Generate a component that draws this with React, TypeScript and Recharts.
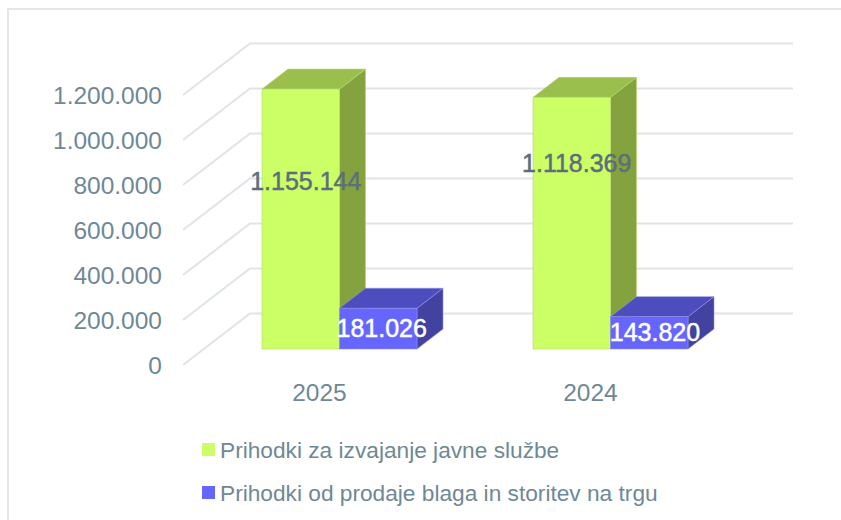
import { BarChart, Bar, XAxis, YAxis, CartesianGrid, Legend, LabelList } from 'recharts'

const years = ['2025', '2024']
const publicService = [1155144, 1118369]
const marketSales = [181026, 143820]
const yTicks = [0, 200000, 400000, 600000, 800000, 1000000, 1200000]
const seriesNames = ['Prihodki za izvajanje javne službe', 'Prihodki od prodaje blaga in storitev na trgu']

const rows = years.map((year, i) => ({
  year,
  publicService: publicService[i],
  marketSales: marketSales[i],
}))

const FONT = '"Liberation Sans", sans-serif'
const AXIS_TEXT = '#6f8896'
const GRID = '#dfe4e8'

// the fake 3D look: how far the side and top faces go back
const DEPTH_X = 26
const DEPTH_Y = 20
// where the wall and the floor edge sit relative to the bar baseline
const WALL_LEFT = 250
const WALL_RIGHT = 793
const WALL_DY = -35.5
const FRONT_LEFT = 183
const FRONT_DY = 16

// labels were dragged by hand in the original
const greenLabelDx = [5, 5]
const greenLabelDy = [-37, -59]
const blueLabelDx = [3.5, 5.7]
const blueLabelDy = [0, 0]

const fmt = (v: number) => v.toString().replace(/\B(?=(\d{3})+$)/g, '.')

function Box3D(props: any, top: string, side: string, edge: string) {
  const { x, y, width, height, fill } = props
  const r = x + width
  const b = y + height
  return (
    <g>
      <polygon points={`${r},${y} ${r + DEPTH_X},${y - DEPTH_Y} ${r + DEPTH_X},${b - DEPTH_Y} ${r},${b}`} fill={side} stroke={edge} strokeWidth={0.6} />
      <polygon points={`${x},${y} ${x + DEPTH_X},${y - DEPTH_Y} ${r + DEPTH_X},${y - DEPTH_Y} ${r},${y}`} fill={top} stroke={edge} strokeWidth={0.6} />
      <rect x={x} y={y} width={width} height={height} fill={fill} stroke={edge} strokeWidth={0.6} />
    </g>
  )
}

function GridLine(props: any) {
  const { y1 } = props
  return (
    <polyline
      key={`grid-${y1}`}
      points={`${FRONT_LEFT},${y1 + FRONT_DY} ${WALL_LEFT},${y1 + WALL_DY} ${WALL_RIGHT},${y1 + WALL_DY}`}
      fill="none"
      stroke={GRID}
      strokeWidth={2}
    />
  )
}

function YTick(props: any) {
  const { y, payload } = props
  return (
    <text x={162} y={y + FRONT_DY} dy={9} textAnchor="end" fontFamily={FONT} fontSize={24.5} fill={AXIS_TEXT}>
      {fmt(payload.value)}
    </text>
  )
}

function XTick(props: any) {
  const { x, payload } = props
  return (
    <text x={x - 20} y={401} textAnchor="middle" fontFamily={FONT} fontSize={24.5} fill={AXIS_TEXT}>
      {payload.value}
    </text>
  )
}

function BarLabel(props: any, color: string, dxList: number[], dyList: number[]) {
  const { x, y, width, height, value, index } = props
  return (
    <text
      x={x + width / 2 + dxList[index]}
      y={y + height / 2 + dyList[index] + 8}
      textAnchor="middle"
      fontFamily={FONT}
      fontSize={25}
      fill={color}
      stroke={color}
      strokeWidth={0.5}
    >
      {fmt(value)}
    </text>
  )
}

function LegendList({ payload }: any) {
  return (
    <div style={{ fontFamily: FONT, fontSize: 22.7, color: AXIS_TEXT }}>
      {(payload || []).map((item: any) => (
        <div key={item.value} style={{ position: 'relative', height: 43, whiteSpace: 'nowrap' }}>
          <span style={{ position: 'absolute', left: 0, top: 6, width: 13, height: 13, background: item.color }} />
          <span style={{ position: 'absolute', left: 18, top: 0, lineHeight: '26px' }}>{item.value}</span>
        </div>
      ))}
    </div>
  )
}

export default function App() {
  return (
    <div style={{ position: 'absolute', left: 0, top: 0, width: 841, height: 520, background: '#fff', overflow: 'hidden' }}>
      <div style={{ position: 'absolute', left: 7, top: 8, width: 834, height: 512, borderLeft: '2px solid #e3e7ea', borderTop: '2px solid #e3e7ea', boxSizing: 'border-box' }} />
      <BarChart
        width={841}
        height={520}
        data={rows}
        barSize={77.5}
        barGap={0}
        margin={{ top: 79, right: 95, bottom: 131, left: 0 }}
        style={{ position: 'absolute', left: 0, top: 0 }}
      >
        <CartesianGrid vertical={false} horizontal={GridLine} />
        <XAxis dataKey="year" axisLine={false} tickLine={false} height={40} tick={XTick} />
        <YAxis
          width={204}
          domain={[0, 1200000]}
          ticks={yTicks}
          interval={0}
          axisLine={false}
          tickLine={false}
          tick={YTick}
        />
        <Legend
          layout="vertical"
          align="center"
          verticalAlign="middle"
          itemSorter={null}
          wrapperStyle={{ left: 202, top: 437, width: 600, height: 80 }}
          content={<LegendList />}
        />
        <Bar
          dataKey="publicService"
          name={seriesNames[0]}
          fill="#ccff66"
          isAnimationActive={false}
          shape={(p: any) => Box3D(p, '#9bbf4d', '#84a33f', '#b5d870')}
        >
          <LabelList dataKey="publicService" content={(p: any) => BarLabel(p, '#5c6e7c', greenLabelDx, greenLabelDy)} />
        </Bar>
        <Bar
          dataKey="marketSales"
          name={seriesNames[1]}
          fill="#6666ff"
          isAnimationActive={false}
          shape={(p: any) => Box3D(p, '#4d4dbf', '#4242a0', '#8f8fe8')}
        >
          <LabelList dataKey="marketSales" content={(p: any) => BarLabel(p, '#ffffff', blueLabelDx, blueLabelDy)} />
        </Bar>
      </BarChart>
    </div>
  )
}
